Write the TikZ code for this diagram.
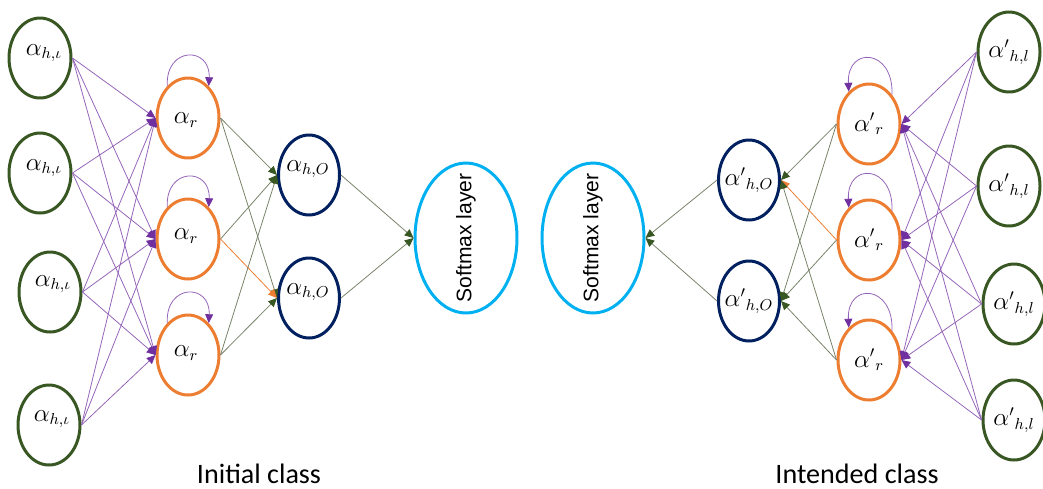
\documentclass[tikz,border=0pt]{standalone}
\usepackage{fontspec}
\usetikzlibrary{shapes.geometric,arrows.meta}
\newfontfamily\classfont{Carlito}
\newfontfamily\smfont{Liberation Sans}
\definecolor{ngreen}{RGB}{56,87,35}
\definecolor{norange}{RGB}{237,125,49}
\definecolor{nblue}{RGB}{0,32,96}
\definecolor{ncyan}{RGB}{0,176,240}
\definecolor{npurple}{RGB}{112,48,160}
\definecolor{nline}{RGB}{120,130,105}
\begin{document}
\begin{tikzpicture}[x=0.02cm,y=-0.02cm,
  base/.style={ellipse,line width=1.7pt,inner sep=0pt},
  innode/.style={base,draw=ngreen,minimum width=1.24cm,minimum height=1.6cm},
  rnode/.style={base,draw=norange,minimum width=1.24cm,minimum height=1.6cm},
  onode/.style={base,draw=nblue,minimum width=1.22cm,minimum height=1.6cm},
  smnode/.style={base,draw=ncyan,minimum width=2.04cm,minimum height=3.0cm},
  lbl/.style={font=\fontsize{13.5}{16}\selectfont,inner sep=0pt},
  pedge/.style={draw=npurple!75,line width=0.45pt,-{Triangle[length=5pt,width=4.5pt,color=npurple]}},
  gedge/.style={draw=nline,line width=0.45pt,-{Triangle[length=5pt,width=4.5pt,color=ngreen]}},
  oedge/.style={draw=norange,line width=0.45pt,-{Triangle[length=5pt,width=4.5pt,color=norange]}},
  loopst/.style={draw=npurple!75,line width=0.45pt,-{Triangle[length=5pt,width=4.5pt,color=npurple]}},
  cls/.style={font=\classfont\fontsize{16}{19}\selectfont,inner sep=0pt}
]
\useasboundingbox (0,0) rectangle (1043,488);

% ---------- left network ----------
\node[innode] (i1) at (40,58) {};
\node[innode] (i2) at (40,173) {};
\node[innode] (i3) at (50,292) {};
\node[innode] (i4) at (49,425) {};
\node[rnode] (r1) at (188,118) {};
\node[rnode] (r2) at (188,239) {};
\node[rnode] (r3) at (188,355) {};
\node[onode] (o1) at (309,175) {};
\node[onode] (o2) at (309,298) {};
\node[smnode] (sm1) at (466,238) {};

\node[lbl] (ti1) at ([shift={(4,-5)}]i1) {$\alpha_{h,\iota}$};
\node[lbl] (ti2) at ([shift={(4,-5)}]i2) {$\alpha_{h,\iota}$};
\node[lbl] (ti3) at ([shift={(3,-8)}]i3) {$\alpha_{h,\iota}$};
\node[lbl] (ti4) at ([shift={(3,-6)}]i4) {$\alpha_{h,\iota}$};
\node[lbl] (tr1) at ([shift={(-2,2)}]r1) {$\alpha_{r}$};
\node[lbl] (tr2) at ([shift={(-2,-3)}]r2) {$\alpha_{r}$};
\node[lbl] (tr3) at ([shift={(-2,-2)}]r3) {$\alpha_{r}$};
\node[lbl] (to1) at ([shift={(-1,-6)}]o1) {$\alpha_{h,O}$};
\node[lbl] (to2) at ([shift={(-1,-6)}]o2) {$\alpha_{h,O}$};
\node[rotate=90,font=\smfont\fontsize{12}{14}\selectfont,inner sep=0pt] (tsm1) at (sm1) {Softmax layer};

\foreach \i in {1,...,4}{
  \foreach \r in {1,2,3}{
    \draw[pedge] (i\i.east) -- (r\r.west);
  }
}
\foreach \r in {1,2,3}{
  \draw[loopst] (r\r.123) .. controls +(-2,-40) and +(2,-40) .. (r\r.57);
}
\draw[gedge] (r1.east) -- (o1.west);
\draw[gedge] (r1.east) -- (o2.west);
\draw[gedge] (r2.east) -- (o1.west);
\draw[oedge] (r2.east) -- (o2.west);
\draw[gedge] (r3.east) -- (o1.west);
\draw[gedge] (r3.east) -- (o2.west);
\draw[gedge] (o1.east) -- (sm1.west);
\draw[gedge] (o2.east) -- (sm1.west);

% ---------- right network ----------
\node[innode] (j1) at (1009,52) {};
\node[innode] (j2) at (1009,186) {};
\node[innode] (j3) at (1014,304) {};
\node[innode] (j4) at (1014,420) {};
\node[rnode] (s1) at (869,124) {};
\node[rnode] (s2) at (869,240) {};
\node[rnode] (s3) at (869,360) {};
\node[onode] (p1) at (749,180) {};
\node[onode] (p2) at (749,301) {};
\node[smnode] (sm2) at (593,238) {};

\node[lbl] (tj1) at (j1) {${\alpha'}_{h,l}$};
\node[lbl] (tj2) at (j2) {${\alpha'}_{h,l}$};
\node[lbl] (tj3) at (j3) {${\alpha'}_{h,l}$};
\node[lbl] (tj4) at (j4) {${\alpha'}_{h,l}$};
\node[lbl] (ts1) at (s1) {${\alpha'}_{r}$};
\node[lbl] (ts2) at (s2) {${\alpha'}_{r}$};
\node[lbl] (ts3) at (s3) {${\alpha'}_{r}$};
\node[lbl] (tp1) at (p1) {${\alpha'}_{h,O}$};
\node[lbl] (tp2) at (p2) {${\alpha'}_{h,O}$};
\node[rotate=90,font=\smfont\fontsize{12}{14}\selectfont,inner sep=0pt] (tsm2) at (sm2) {Softmax layer};

\foreach \j in {1,...,4}{
  \foreach \s in {1,2,3}{
    \draw[pedge] (j\j.west) -- (s\s.east);
  }
}
\foreach \s in {1,2,3}{
  \draw[loopst] (s\s.52) .. controls +(2,-46) and +(-2,-46) .. (s\s.122);
}
\draw[gedge] (s1.west) -- (p1.east);
\draw[gedge] (s1.west) -- (p2.east);
\draw[oedge] (s2.west) -- (p1.east);
\draw[gedge] (s2.west) -- (p2.east);
\draw[gedge] (s3.west) -- (p1.east);
\draw[gedge] (s3.west) -- (p2.east);
\draw[gedge] (p1.west) -- (sm2.east);
\draw[gedge] (p2.west) -- (sm2.east);

% ---------- captions ----------
\node[cls] (c1) at (259,474) {Initial class};
\node[cls] (c2) at (857,474) {Intended class};
\end{tikzpicture}
\end{document}
